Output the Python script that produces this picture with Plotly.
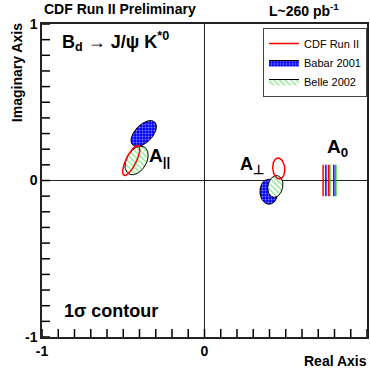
import numpy as np
import plotly.graph_objects as go

# 1-sigma contours: centre (Re, Im), semi-axes (a, b), rotation (deg)
cdf_par = dict(cx=-0.451, cy=0.128, a=0.105, b=0.032, ang=65)
babar_par = dict(cx=-0.374, cy=0.300, a=0.100, b=0.055, ang=48)
belle_par = dict(cx=-0.418, cy=0.128, a=0.098, b=0.062, ang=62)

cdf_perp = dict(cx=0.457, cy=0.077, a=0.067, b=0.037, ang=95)
babar_perp = dict(cx=0.396, cy=-0.072, a=0.080, b=0.055, ang=92)
belle_perp = dict(cx=0.436, cy=-0.038, a=0.070, b=0.046, ang=80)

# A0 is real: 1-sigma band edges on the real axis
cdf_a0 = [0.730, 0.763]
babar_a0 = [0.747, 0.796]
belle_a0 = [0.771, 0.808]
a0_half_height = 0.10

# axis: labels at -1, 0, 1 and small ticks every 0.1
label_ticks = [-1, 0, 1]
small_ticks = [round(-1 + 0.1 * i, 1) for i in range(21)]

FONT = "Liberation Sans, Arial, sans-serif"
RED, BLUE, GREEN = "#ff0000", "#0000ff", "#00cc00"
PLOT_W, PLOT_H = 327, 313
TICK_PX = 8


def ellipse(p, n=120):
    t = np.linspace(0, 2 * np.pi, n)
    th = np.deg2rad(p["ang"])
    x = p["a"] * np.cos(t)
    y = p["b"] * np.sin(t)
    return (p["cx"] + x * np.cos(th) - y * np.sin(th),
            p["cy"] + x * np.sin(th) + y * np.cos(th))


fig = go.Figure()


def babar(p, show):
    x, y = ellipse(p)
    fig.add_trace(go.Scatter(
        x=x, y=y, mode="lines", fill="toself", name="Babar 2001",
        legendgroup="babar", showlegend=show, legendrank=2,
        line=dict(color="black", width=1),
        fillcolor=BLUE,
        fillpattern=dict(shape=".", bgcolor=BLUE, fgcolor="white",
                         size=3, solidity=0.35, fillmode="overlay"),
        hoverinfo="skip"))


def belle(p, show):
    x, y = ellipse(p)
    fig.add_trace(go.Scatter(
        x=x, y=y, mode="lines", fill="toself", name="Belle 2002",
        legendgroup="belle", showlegend=show, legendrank=3,
        line=dict(color="black", width=1),
        fillcolor="white",
        fillpattern=dict(shape="\\", bgcolor="white", fgcolor=GREEN,
                         size=4, solidity=0.3, fillmode="overlay"),
        hoverinfo="skip"))


def cdf(p, show):
    x, y = ellipse(p)
    fig.add_trace(go.Scatter(
        x=x, y=y, mode="lines", name="CDF Run II",
        legendgroup="cdf", showlegend=show, legendrank=1,
        line=dict(color=RED, width=1.5), hoverinfo="skip"))


# A_parallel
belle(belle_par, False)
babar(babar_par, False)
cdf(cdf_par, True)
# A_perp
babar(babar_perp, True)
belle(belle_perp, True)
cdf(cdf_perp, False)

# A0 bands
for vals, col in ((cdf_a0, RED), (babar_a0, BLUE), (belle_a0, GREEN)):
    for v in vals:
        fig.add_trace(go.Scatter(
            x=[v, v], y=[-a0_half_height, a0_half_height], mode="lines",
            line=dict(color=col, width=1.5), showlegend=False,
            hoverinfo="skip"))

# inward tick marks every 0.1 on the bottom and left edges
tick_x = []
tick_y = []
for v in small_ticks:
    tick_x += [v, v, None]
    tick_y += [-1, -1 + 2 * TICK_PX / PLOT_H, None]
fig.add_trace(go.Scatter(x=tick_x, y=tick_y, mode="lines",
                         line=dict(color="black", width=1.5),
                         showlegend=False, hoverinfo="skip",
                         cliponaxis=False))
tick_x = []
tick_y = []
for v in small_ticks:
    tick_x += [-1, -1 + 2 * TICK_PX / PLOT_W, None]
    tick_y += [v, v, None]
fig.add_trace(go.Scatter(x=tick_x, y=tick_y, mode="lines",
                         line=dict(color="black", width=1.5),
                         showlegend=False, hoverinfo="skip",
                         cliponaxis=False))

axis_common = dict(
    range=[-1, 1], tickmode="array", tickvals=label_ticks,
    ticktext=[f"<b>{v}</b>" for v in label_ticks], ticks="",
    showline=True, linecolor="#222", linewidth=1.5, mirror=True,
    showgrid=False, zeroline=True, zerolinecolor="#222", zerolinewidth=1,
    tickfont=dict(family=FONT, size=14, color="black"),
)
fig.update_xaxes(**axis_common)
fig.update_yaxes(**axis_common)

ann = [
    dict(text="<b>CDF Run II Preliminary</b>", x=42, y=9, size=14),
    dict(text="<b>L~260 pb<sup>-1</sup></b>", x=268, y=10, size=14),
    dict(text="<b>B<sub>d</sub> \u2192 J/\u03c8 K<sup>*0</sup></b>", x=60, y=41, size=18),
    dict(text="<b>A<sub>||</sub></b>", x=148, y=157, size=19),
    dict(text="<b>A<sub>\u22a5</sub></b>", x=239, y=165, size=18),
    dict(text="<b>A<sub>0</sub></b>", x=327, y=148, size=19),
    dict(text="<b>1\u03c3 contour</b>", x=62, y=311, size=18),
    dict(text="<b>Real Axis</b>", x=304, y=361, size=14),
]
for a in ann:
    fig.add_annotation(
        text=a["text"], xref="paper", yref="paper",
        x=(a["x"] - 42) / PLOT_W, y=1 - (a["y"] - 24) / PLOT_H,
        xanchor="left", yanchor="middle", showarrow=False,
        font=dict(family=FONT, size=a["size"], color="black"))

fig.add_annotation(
    text="<b>Imaginary Axis</b>", xref="paper", yref="paper",
    x=(17 - 42) / PLOT_W, y=1 - (73 - 24) / PLOT_H, textangle=-90,
    xanchor="center", yanchor="middle", showarrow=False,
    font=dict(family=FONT, size=14, color="black"))

fig.update_layout(
    width=370, height=377,
    margin=dict(l=42, r=1, t=24, b=40),
    paper_bgcolor="white", plot_bgcolor="white",
    showlegend=True,
    legend=dict(
        x=1, xanchor="right", y=1 - (28 - 24) / PLOT_H, yanchor="top",
        bgcolor="white", bordercolor="#444", borderwidth=1,
        font=dict(family=FONT, size=11, color="black"),
        itemwidth=30, tracegroupgap=0,
    ),
)

fig.write_html("out.html")
